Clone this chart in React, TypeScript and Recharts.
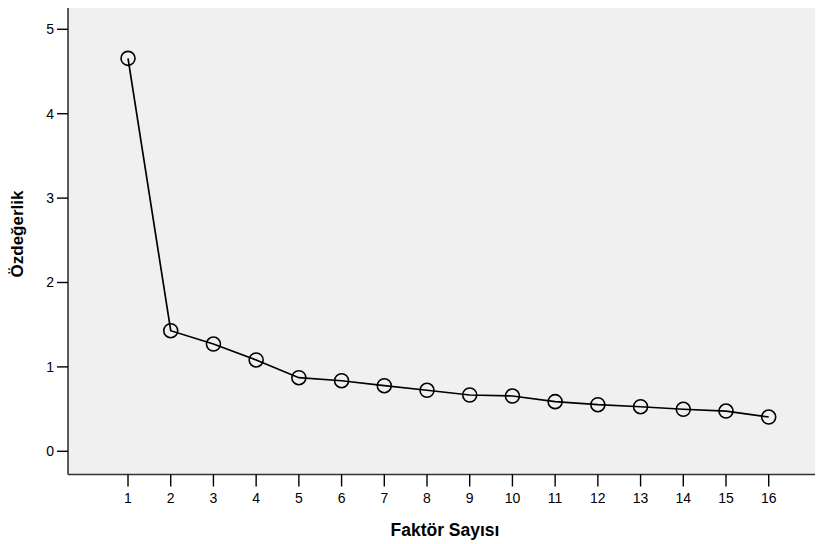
import React from 'react';
import { LineChart, Line, XAxis, YAxis, CartesianGrid } from 'recharts';

const factors = [1, 2, 3, 4, 5, 6, 7, 8, 9, 10, 11, 12, 13, 14, 15, 16];
const eigenvalues = [4.656, 1.429, 1.271, 1.082, 0.872, 0.836, 0.777, 0.723, 0.667, 0.655, 0.588, 0.552, 0.528, 0.498, 0.477, 0.406];
const xTicks = [1, 2, 3, 4, 5, 6, 7, 8, 9, 10, 11, 12, 13, 14, 15, 16];
const yTicks = [0, 1, 2, 3, 4, 5];
const xLabel = 'Faktör Sayısı';
const yLabel = 'Özdeğerlik';

const data = factors.map((f, i) => ({ f, v: eigenvalues[i] }));

const FONT = 'Arial, "Liberation Sans", sans-serif';
const BORDER = '#333333';

const Dot = (props: any) => {
  const { cx, cy } = props;
  if (cx == null || cy == null) return null;
  return <circle cx={cx} cy={cy} r={7} fill="none" stroke="#000" strokeWidth={1.6} />;
};

export default function App() {
  return (
    <div style={{ marginLeft: -8, marginTop: -8, width: 823, height: 544, background: '#fff' }}>
      <LineChart
        width={823}
        height={544}
        data={data}
        margin={{ top: 5, right: 0, left: 0, bottom: 0 }}
      >
        <CartesianGrid horizontal={false} vertical={false} fill="#f0f0f0" />
        <XAxis
          dataKey="f"
          type="number"
          domain={[-0.405, 17.271]}
          ticks={xTicks}
          interval={0}
          height={69.5}
          tickSize={12}
          tickMargin={7}
          axisLine={{ stroke: BORDER, strokeWidth: 1.6 }}
          tickLine={{ stroke: '#000', strokeWidth: 1.4 }}
          tick={{ fill: '#000', fontSize: 14, fontFamily: FONT }}
          allowDataOverflow
          label={{
            content: () => (
              <text x={445} y={536} textAnchor="middle" fontFamily={FONT} fontSize={17.5} fontWeight="bold" fill="#000">
                {xLabel}
              </text>
            ),
          }}
        />
        <XAxis
          xAxisId="top"
          orientation="top"
          type="number"
          domain={[-0.405, 17.271]}
          height={0}
          tick={false}
          tickLine={false}
          axisLine={{ stroke: BORDER, strokeWidth: 1.6 }}
        />
        <YAxis
          type="number"
          domain={[-0.275, 5.288]}
          ticks={yTicks}
          interval={0}
          width={68}
          tickSize={11}
          tickMargin={3}
          allowDataOverflow
          axisLine={{ stroke: BORDER, strokeWidth: 1.6 }}
          tickLine={{ stroke: '#000', strokeWidth: 1.4 }}
          tick={{ fill: '#000', fontSize: 14, fontFamily: FONT }}
          label={{
            content: () => (
              <text
                x={17}
                y={234}
                transform="rotate(-90 17 234)"
                textAnchor="middle"
                dominantBaseline="central"
                fontFamily={FONT}
                fontSize={17}
                fontWeight="bold"
                fill="#000"
              >
                {yLabel}
              </text>
            ),
          }}
        />
        <Line
          dataKey="v"
          stroke="#000"
          strokeWidth={1.7}
          dot={<Dot />}
          activeDot={false}
          isAnimationActive={false}
        />
      </LineChart>
    </div>
  );
}
